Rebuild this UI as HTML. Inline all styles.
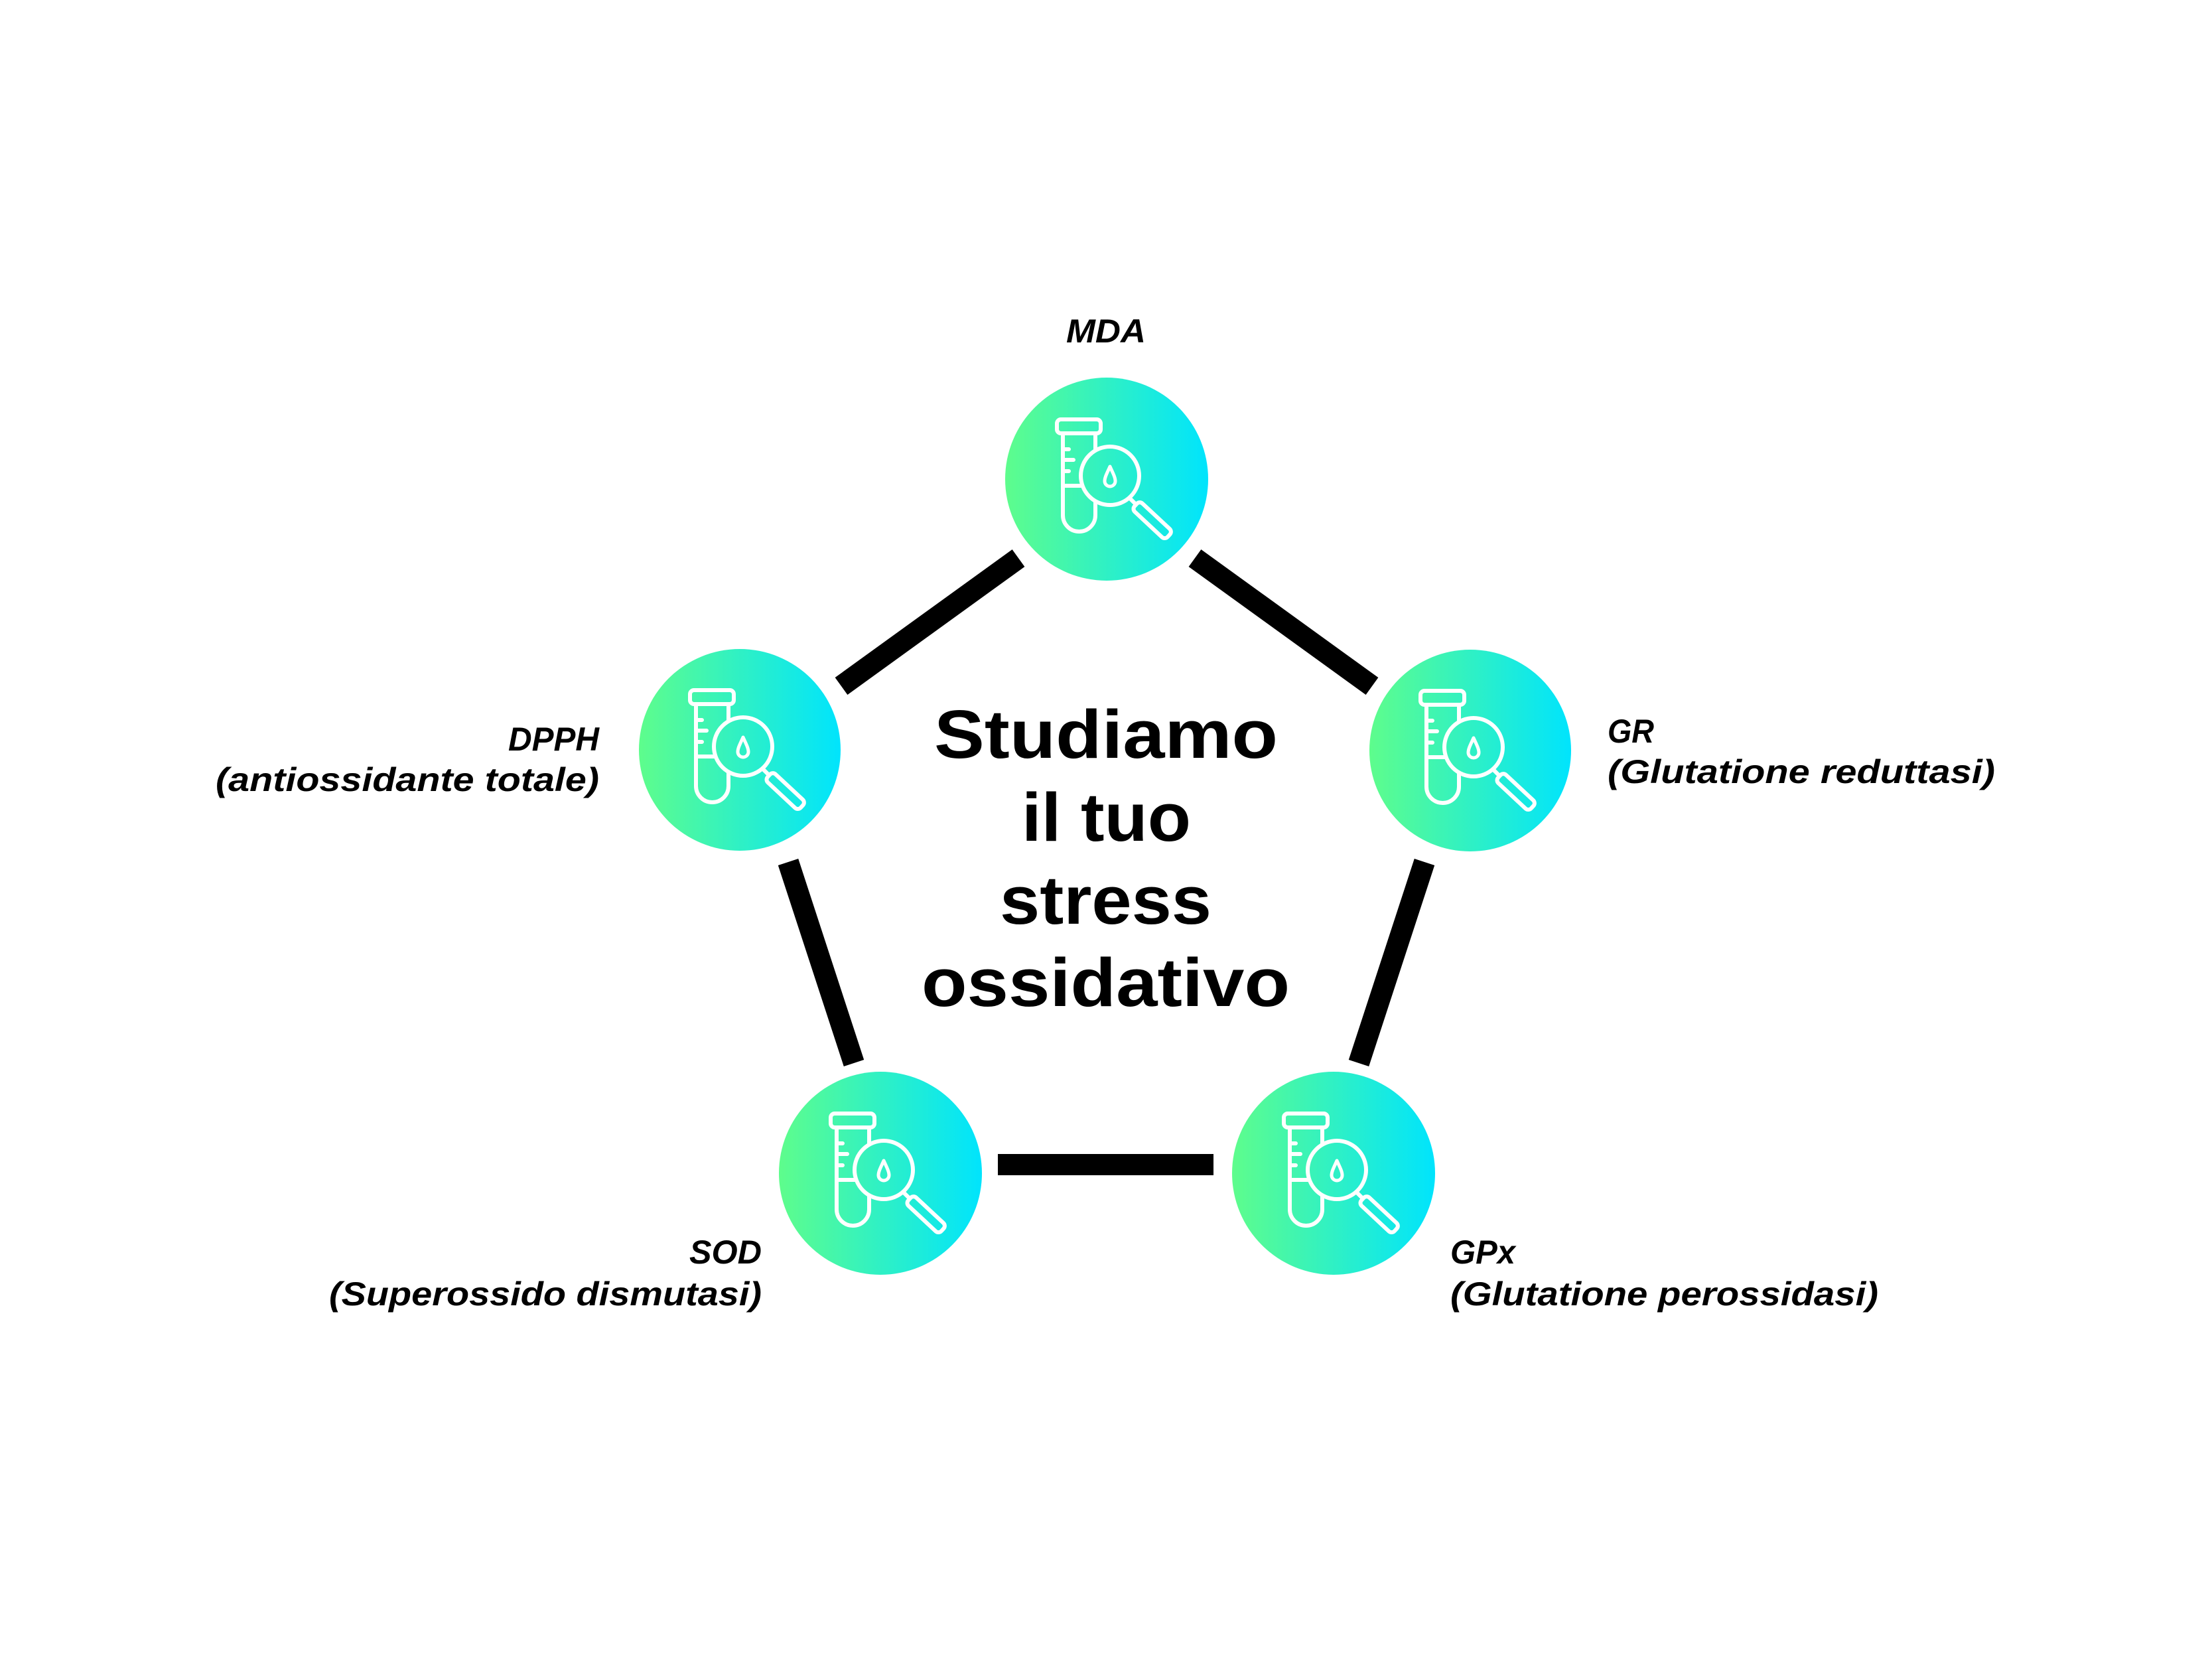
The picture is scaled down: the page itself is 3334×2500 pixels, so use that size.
<!DOCTYPE html>
<html><head><meta charset="utf-8"><style>html,body{margin:0;padding:0;background:#fff}svg{display:block}</style></head>
<body>
<svg width="3334" height="2500" viewBox="0 0 3334 2500" xmlns="http://www.w3.org/2000/svg">
<defs>
<linearGradient id="g" x1="0" y1="0" x2="1" y2="0">
<stop offset="0" stop-color="#5efd8c"/><stop offset="1" stop-color="#00e4fd"/>
</linearGradient>
<g id="ic" fill="none" stroke="#fff" stroke-width="6" stroke-linecap="round" stroke-linejoin="round">
<rect x="-75" y="-90" width="66" height="21" rx="6"/>
<path d="M-66,-69 V54.5 A24.5,24.5 0 0 0 -17,54.5 V34"/>
<path d="M-17,-69 V-44"/>
<path d="M-66,-45 H-57 M-66,-29 H-50 M-66,-12 H-57 M-66,10 H-37"/>
<circle cx="5" cy="-5" r="44"/>
<path d="M5,-19 C1,-10 -3,-3 -3,3 A8,8 0 0 0 13,3 C13,-3 9,-10 5,-19 Z" stroke-width="5"/>
<path d="M36,30 L44,38"/>
<rect x="-8" y="-8" width="68" height="17" rx="6" transform="translate(50,44) rotate(43)"/>
</g>
</defs>
<g stroke="#000" stroke-width="32" stroke-linecap="butt">
<line x1="1535" y1="841" x2="1268" y2="1034"/>
<line x1="1801" y1="841" x2="2068" y2="1034"/>
<line x1="1188" y1="1299" x2="1287" y2="1602"/>
<line x1="2147" y1="1299" x2="2048" y2="1602"/>
<line x1="1504" y1="1755" x2="1829" y2="1755"/>
</g>
<g>
<circle cx="1668" cy="722" r="153" fill="url(#g)"/><use href="#ic" x="1668" y="722"/>
<circle cx="1115" cy="1130" r="152" fill="url(#g)"/><use href="#ic" x="1115" y="1130"/>
<circle cx="2216" cy="1131" r="152" fill="url(#g)"/><use href="#ic" x="2216" y="1131"/>
<circle cx="1327" cy="1768" r="153" fill="url(#g)"/><use href="#ic" x="1327" y="1768"/>
<circle cx="2010" cy="1768" r="153" fill="url(#g)"/><use href="#ic" x="2010" y="1768"/>
</g>
<g font-family="Liberation Sans, sans-serif" font-weight="bold" font-style="italic" font-size="50" fill="#000" lengthAdjust="spacingAndGlyphs">
<text x="1607" y="516" textLength="120" lengthAdjust="spacingAndGlyphs">MDA</text>
<text x="766" y="1131" textLength="137" lengthAdjust="spacingAndGlyphs">DPPH</text>
<text x="325" y="1192" textLength="578" lengthAdjust="spacingAndGlyphs">(antiossidante totale)</text>
<text x="2423" y="1119" textLength="70" lengthAdjust="spacingAndGlyphs">GR</text>
<text x="2423" y="1180" textLength="584" lengthAdjust="spacingAndGlyphs">(Glutatione reduttasi)</text>
<text x="1039" y="1904" textLength="109" lengthAdjust="spacingAndGlyphs">SOD</text>
<text x="496" y="1967" textLength="652" lengthAdjust="spacingAndGlyphs">(Superossido dismutasi)</text>
<text x="2186" y="1904" textLength="98" lengthAdjust="spacingAndGlyphs">GPx</text>
<text x="2186" y="1967" textLength="645" lengthAdjust="spacingAndGlyphs">(Glutatione perossidasi)</text>
</g>
<g font-family="Liberation Sans, sans-serif" font-weight="bold" font-size="103" fill="#000">
<text x="1408" y="1142" textLength="518" lengthAdjust="spacingAndGlyphs">Studiamo</text>
<text x="1540" y="1267" textLength="255" lengthAdjust="spacingAndGlyphs">il tuo</text>
<text x="1507" y="1392" textLength="319" lengthAdjust="spacingAndGlyphs">stress</text>
<text x="1389" y="1516" textLength="555" lengthAdjust="spacingAndGlyphs">ossidativo</text>
</g>
</svg>
</body></html>
